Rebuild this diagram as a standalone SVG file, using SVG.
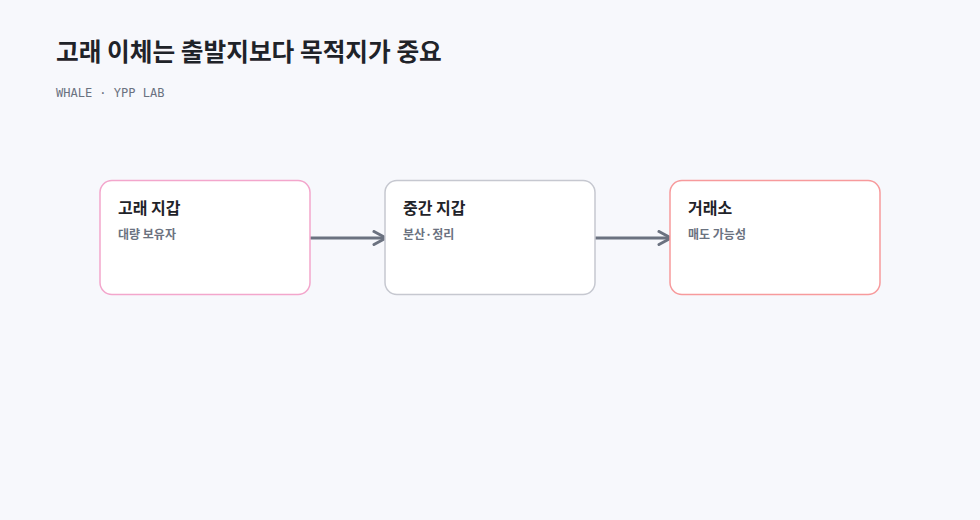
<svg xmlns="http://www.w3.org/2000/svg" width="980" height="520" viewBox="0 0 980 520">
<style>
.t{font-family:"Noto Sans CJK KR","Noto Sans",sans-serif;font-weight:700;fill:#1f2329}
.s{font-family:"Noto Sans CJK KR","Noto Sans",sans-serif;font-weight:700;fill:#6b7280;font-size:12px}
.box{fill:#ffffff;stroke-width:1.5}
.edge{stroke:#6b7280;stroke-width:3;fill:none;marker-end:url(#arr)}
</style>
<defs>
<marker id="arr" markerWidth="16" markerHeight="18" refX="14" refY="8" orient="auto" markerUnits="userSpaceOnUse"><path d="M2,1.5 L14,8 L2,14.5" fill="none" stroke="#6b7280" stroke-width="3" stroke-linecap="round" stroke-linejoin="round"/></marker>
</defs>
<rect width="980" height="520" fill="#f7f8fc"/>
<text class="t" x="56" y="61" font-size="24.7">고래 이체는 출발지보다 목적지가 중요</text>
<text x="56" y="97" font-family="'DejaVu Sans Mono','Liberation Mono',monospace" font-size="12" fill="#6b7280">WHALE · YPP LAB</text>
<g id="connectors">
<path class="edge" d="M310,238 H386"/>
<path class="edge" d="M595,238 H671"/>
</g>
<g id="whale">
<rect class="box" x="100" y="180.5" width="210" height="114" rx="12" stroke="#f3a6cc"/>
<text class="t" x="118" y="214" font-size="16">고래 지갑</text>
<text class="s" x="118" y="239">대량 보유자</text>
</g>
<g id="middle">
<rect class="box" x="385" y="180.5" width="210" height="114" rx="12" stroke="#c6c8d0"/>
<text class="t" x="403" y="214" font-size="16">중간 지갑</text>
<text class="s" x="403" y="239">분산·정리</text>
</g>
<g id="exchange">
<rect class="box" x="670" y="180.5" width="210" height="114" rx="12" stroke="#f79a9c"/>
<text class="t" x="688" y="214" font-size="16">거래소</text>
<text class="s" x="688" y="239">매도 가능성</text>
</g>
</svg>
